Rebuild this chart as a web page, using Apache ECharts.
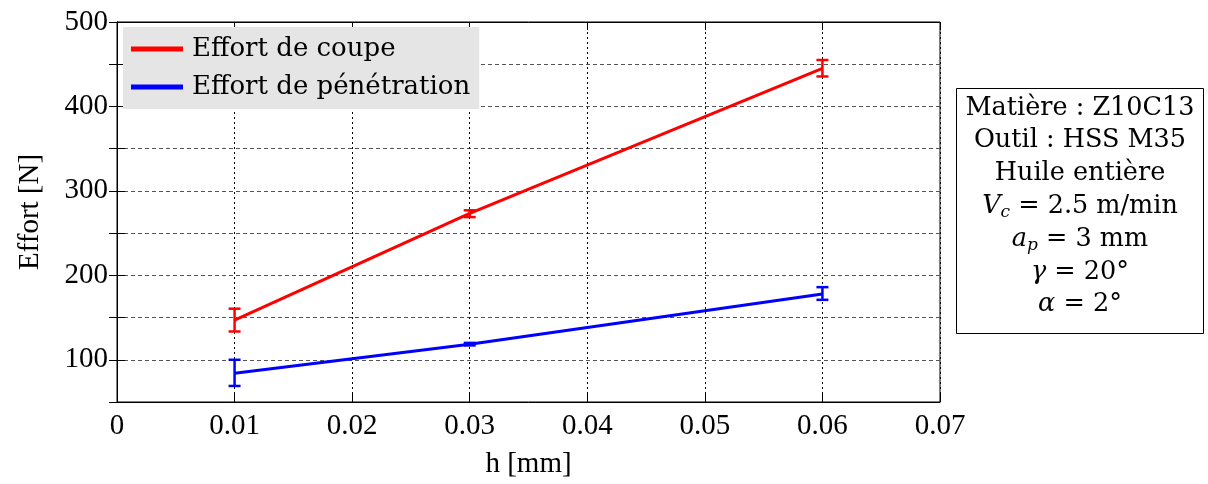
<!DOCTYPE html>
<html><head><meta charset="utf-8">
<script src="https://cdn.jsdelivr.net/npm/echarts@6/dist/echarts.min.js"></script>
<style>html,body{margin:0;padding:0;background:#fff}#c{width:1208px;height:484px}</style>
</head><body><div id="c"></div>
<script>
var hValues = [0.01, 0.03, 0.06];
var coupeMean = [147, 273.5, 445];
var coupeLow = [133.5, 269, 435.5];
var coupeHigh = [160.5, 277, 455];
var penMean = [84, 118.5, 178];
var penLow = [69, 117, 171];
var penHigh = [100, 120, 186];
var xTicks = [0, 0.01, 0.02, 0.03, 0.04, 0.05, 0.06, 0.07];
var yLabels = [100, 200, 300, 400, 500];
var infoLines = ['Matière : Z10C13', 'Outil : HSS M35', 'Huile entière'];

var FONT = 'Liberation Serif';
var FONT2 = 'DejaVu Serif';
var chart = echarts.init(document.getElementById('c'));

function pairs(xs, ys){ return xs.map(function(x,i){return [x, ys[i]];}); }
function errData(xs, lo, hi){ return xs.map(function(x,i){return [x, lo[i], hi[i]];}); }
function errRender(color){
  return function(params, api){
    var x = api.value(0), p1 = api.coord([x, api.value(1)]), p2 = api.coord([x, api.value(2)]);
    var w = 6, st = {stroke: color, lineWidth: 2.5};
    return {type:'group', children:[
      {type:'line', shape:{x1:p1[0], y1:p1[1], x2:p2[0], y2:p2[1]}, style:st},
      {type:'line', shape:{x1:p1[0]-w, y1:p1[1], x2:p1[0]+w, y2:p1[1]}, style:st},
      {type:'line', shape:{x1:p2[0]-w, y1:p2[1], x2:p2[0]+w, y2:p2[1]}, style:st}
    ]};
  };
}

var txt = {fontFamily: FONT, fontSize: 29, color: '#000'};
var BS = 25.5;
var rich = {
  n: {fontFamily: FONT2, fontSize: BS, color:'#000'},
  i: {fontFamily: FONT2, fontSize: BS, fontStyle:'italic', color:'#000'},
  s: {fontFamily: FONT2, fontSize: 17, fontStyle:'italic', color:'#000', verticalAlign:'bottom', padding:[12,0,0,0]}
};
var boxCx = 1080, lineY0 = 108, lineDy = 32.8;
var infoGraphics = [{type:'rect', shape:{x:956.5, y:88.5, width:247, height:245}, style:{fill:'#fff', stroke:'#000', lineWidth:1}}];
var rtexts = infoLines.map(function(s){return '{n|'+s+'}';});
rtexts.push('{i|V}{s|c}{n| = 2.5 m/min}');
rtexts.push('{i|a}{s|p}{n| = 3 mm}');
rtexts.push('{i|γ}{n| = 20°}');
rtexts.push('{i|α}{n| = 2°}');
rtexts.forEach(function(t, k){
  infoGraphics.push({type:'text', x: boxCx, y: lineY0 + k*lineDy, style:{text:t, rich:rich, align:'center', verticalAlign:'middle', fontFamily:FONT2, fontSize:BS}});
});

chart.setOption({
  animation: false,
  backgroundColor: '#fff',
  grid: {left: 117, right: 268, top: 22, bottom: 79, show: true, borderColor: '#000', borderWidth: 1, backgroundColor:'#fff'},
  legend: {
    data: ['Effort de coupe', 'Effort de pénétration'],
    orient: 'vertical', left: 123, top: 27,
    backgroundColor: '#e5e5e5', padding: [9, 9, 9, 8], itemGap: 12,
    icon: 'rect', itemWidth: 52, itemHeight: 5,
    textStyle: {fontFamily: FONT2, fontSize: 26, color: '#000', padding:[0,0,0,4]}
  },
  xAxis: [{
    type: 'value', min: 0, max: 0.07, interval: 0.01,
    name: 'h [mm]', nameLocation: 'middle', nameGap: 48,
    nameTextStyle: txt,
    axisLine: {show:true, lineStyle:{color:'#000'}},
    axisTick: {show:true, inside:true, length:8, lineStyle:{color:'#000'}},
    axisLabel: {fontFamily: FONT, fontSize: 29, color:'#000', margin: 10,
      formatter: function(v){ var r = Math.round(v*100)/100; return r===0 ? '0' : r.toFixed(2); }},
    splitLine: {show:true, lineStyle:{color:'#000', type:[2,3], width:1}}
  },{
    type: 'value', position: 'top', min: 0, max: 0.07, interval: 0.01,
    axisLine: {show:true, lineStyle:{color:'#000'}},
    axisTick: {show:true, inside:true, length:8, lineStyle:{color:'#000'}},
    axisLabel: {show:false}, splitLine:{show:false}
  }],
  yAxis: [{
    type: 'value', min: 50, max: 500, interval: 50,
    name: 'Effort [N]', nameLocation: 'middle', nameGap: 72, nameRotate: 90,
    nameTextStyle: txt,
    axisLine: {show:true, lineStyle:{color:'#000'}},
    axisTick: {show:true, inside:true, length:8, lineStyle:{color:'#000'}},
    axisLabel: {fontFamily: FONT, fontSize: 29, color:'#000', margin: 9,
      formatter: function(v){ return yLabels.indexOf(v) >= 0 ? String(v) : ''; }},
    splitLine: {show:true, lineStyle:{color:'#555', type:[4,3], width:1}}
  },{
    type: 'value', position: 'right', min: 50, max: 500, interval: 50,
    axisLine: {show:true, lineStyle:{color:'#000'}},
    axisTick: {show:true, inside:true, length:8, lineStyle:{color:'#000'}},
    axisLabel: {show:false}, splitLine:{show:false}
  }],
  series: [
    {name:'Effort de coupe', type:'line', data: pairs(hValues, coupeMean), showSymbol:false, symbol:'none',
     lineStyle:{color:'#ff0000', width:3}, itemStyle:{color:'#ff0000'}, z:5},
    {name:'Effort de pénétration', type:'line', data: pairs(hValues, penMean), showSymbol:false, symbol:'none',
     lineStyle:{color:'#0000ff', width:3}, itemStyle:{color:'#0000ff'}, z:5},
    {name:'errC', type:'custom', renderItem: errRender('#ff0000'), data: errData(hValues, coupeLow, coupeHigh), encode:{x:0, y:[1,2]}, z:6},
    {name:'errP', type:'custom', renderItem: errRender('#0000ff'), data: errData(hValues, penLow, penHigh), encode:{x:0, y:[1,2]}, z:6}
  ],
  graphic: infoGraphics
});
</script>
</body></html>
